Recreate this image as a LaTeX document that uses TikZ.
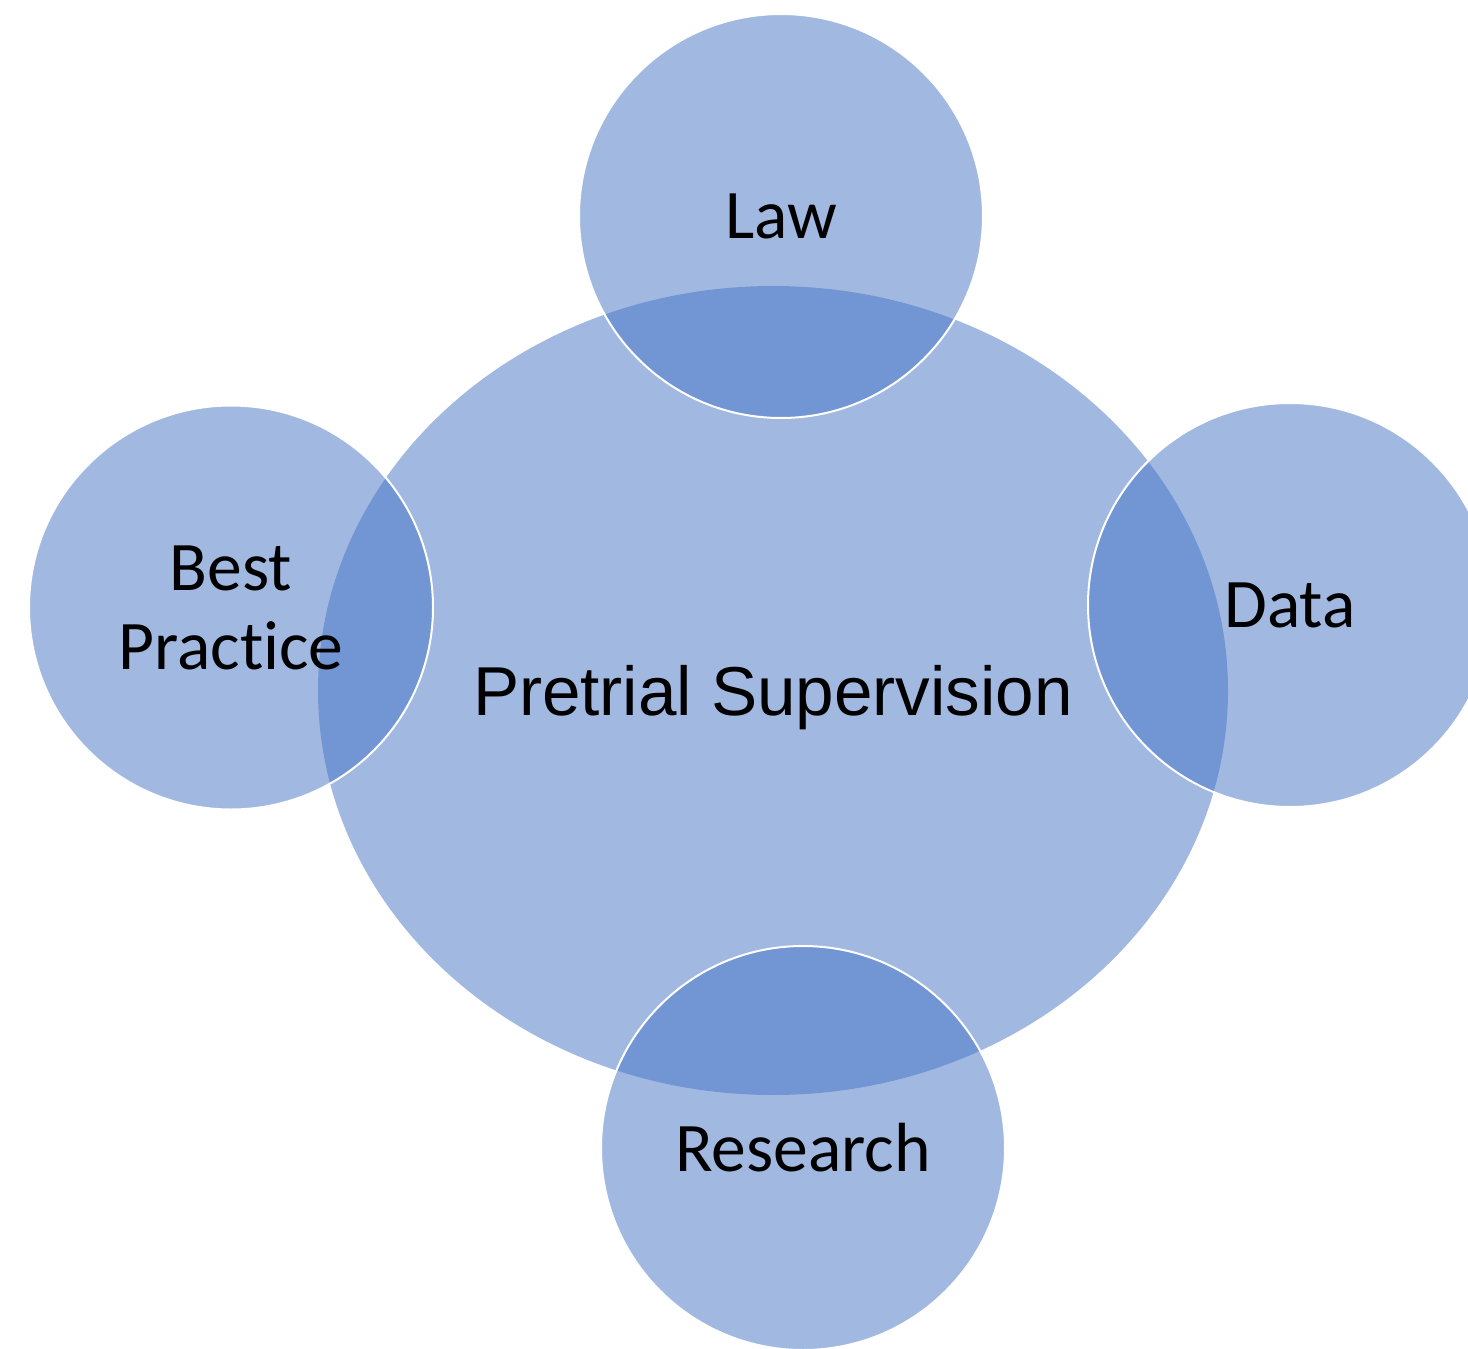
\documentclass[tikz,border=0pt]{standalone}
\usepackage{fontspec}
\setmainfont{Carlito}[Ligatures=NoCommon]
\newfontfamily\arialfont{Liberation Sans}
\usetikzlibrary{shapes.geometric}
\definecolor{bubbleblue}{RGB}{68,114,196}
\begin{document}
\begin{tikzpicture}[x=0.5pt,y=0.5pt,yscale=-1,xscale=1,
	core/.style={ellipse,fill=bubbleblue,fill opacity=0.5,text opacity=1,minimum width=455pt,minimum height=404.5pt,inner sep=0pt,text depth=0pt,font=\arialfont\fontsize{34.6}{40}\selectfont},
	topic/.style={circle,fill=bubbleblue,fill opacity=0.5,text opacity=1,draw=white,draw opacity=1,line width=1pt,minimum size=202pt,inner sep=0pt,align=center,font=\fontsize{34.8}{39.5}\selectfont}]
		\useasboundingbox (0,0) rectangle (1468,1349);
		\node [core] (pretrial) at (773,690.5) {Pretrial Supervision};
		\node [topic] (law) at (781,216) {Law};
		\node [topic] (practice) at (231,607.5) {Best\\Practice};
		\node [topic] (data) at (1290,605) {Data};
		\node [topic] (research) at (803,1148) {Research};
		\end{tikzpicture}
\end{document}
